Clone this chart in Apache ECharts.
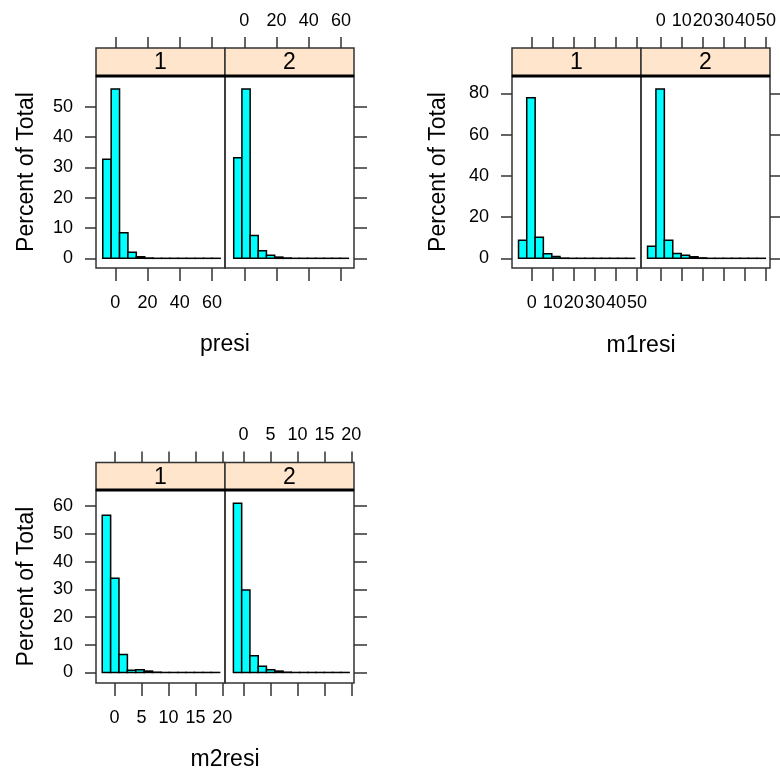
<!DOCTYPE html>
<html><head><meta charset="utf-8">
<script src="https://cdn.jsdelivr.net/npm/echarts@6/dist/echarts.min.js"></script>
<style>html,body{margin:0;padding:0;background:#fff}#c{width:780px;height:776px}</style>
</head><body><div id="c"></div>
<script>
// ---------------- data ----------------
const panelLabels = ['1', '2'];

// presi
const presiBreaks1 = [-7.8, -2.6, 2.6, 7.8, 13.0, 18.2, 23.4, 28.6, 33.8, 39.0, 44.2, 49.4, 54.6, 59.8, 65.0];
const presiPct1    = [32.7, 55.9, 8.4, 2.0, 0.5, 0.1, 0, 0, 0, 0, 0, 0, 0, 0];
const presiBreaks2 = [-6.6, -1.5, 3.6, 8.6, 13.7, 18.8, 23.9, 29.0, 34.0, 39.1, 44.2, 49.3, 54.4, 59.4, 64.5];
const presiPct2    = [33.2, 55.9, 7.5, 2.5, 1.0, 0.4, 0.1, 0, 0, 0, 0, 0, 0, 0];
const presiXTicks  = [0, 20, 40, 60];
const presiYTicks  = [0, 10, 20, 30, 40, 50];

// m1resi
const m1Breaks1 = [-6.3, -2.4, 1.6, 5.5, 9.5, 13.4, 17.3, 21.3, 25.2, 29.2, 33.1, 37.0, 41.0, 44.9, 48.9];
const m1Pct1    = [8.8, 77.8, 10.2, 2.2, 0.9, 0.1, 0, 0, 0, 0, 0, 0, 0, 0];
const m1Breaks2 = [-6.3, -2.3, 1.7, 5.7, 9.7, 13.7, 17.7, 21.7, 25.7, 29.7, 33.7, 37.7, 41.7, 45.7, 49.7];
const m1Pct2    = [5.8, 82.1, 8.7, 2.3, 1.5, 0.8, 0.2, 0, 0, 0, 0, 0, 0, 0];
const m1XTicks  = [0, 10, 20, 30, 40, 50];
const m1YTicks  = [0, 20, 40, 60, 80];

// m2resi
const m2Breaks1 = [-2.3, -0.74, 0.81, 2.37, 3.93, 5.49, 7.04, 8.60, 10.16, 11.71, 13.27, 14.83, 16.38, 17.94, 19.5];
const m2Pct1    = [56.7, 34.0, 6.5, 0.8, 1.0, 0.5, 0.1, 0, 0, 0, 0, 0, 0, 0];
const m2Breaks2 = [-1.9, -0.36, 1.17, 2.71, 4.24, 5.78, 7.32, 8.85, 10.39, 11.92, 13.46, 15.0, 16.53, 18.07, 19.6];
const m2Pct2    = [61.0, 29.7, 6.0, 2.2, 1.0, 0.5, 0.1, 0, 0, 0, 0, 0, 0, 0];
const m2XTicks  = [0, 5, 10, 15, 20];
const m2YTicks  = [0, 10, 20, 30, 40, 50, 60];

const yTitle = 'Percent of Total';

// ---------------- layout / styles ----------------
const FONT = '"Liberation Sans", Arial, sans-serif';
const INK = '#333333';
const charts = [
  { title: 'presi', xMin: -12, xMax: 68, yMin: -3.2, yMax: 60.2, xTicks: presiXTicks, yTicks: presiYTicks,
    panels: [[presiBreaks1, presiPct1], [presiBreaks2, presiPct2]],
    left: 96, right: 354, top: 76, bottom: 268, stripH: 28, nameGap: 58, titleY: 345 },
  { title: 'm1resi', xMin: -9.4, xMax: 51.9, yMin: -4.7, yMax: 88.4, xTicks: m1XTicks, yTicks: m1YTicks,
    panels: [[m1Breaks1, m1Pct1], [m1Breaks2, m1Pct2]],
    left: 512, right: 770, top: 76, bottom: 268, stripH: 28, nameGap: 62, titleY: 346 },
  { title: 'm2resi', xMin: -3.46, xMax: 20.5, yMin: -3.8, yMax: 65.8, xTicks: m2XTicks, yTicks: m2YTicks,
    panels: [[m2Breaks1, m2Pct1], [m2Breaks2, m2Pct2]],
    left: 96, right: 354, top: 490, bottom: 683, stripH: 27.5, nameGap: 58, titleY: 760 }
];

const grid = [], xAxis = [], yAxis = [], series = [], graphic = [];
const tickLine = { color: INK, width: 1.5 };
const labelStyle = { fontSize: 18, fontFamily: FONT, color: '#000' };

charts.forEach(c => {
  const pw = (c.right - c.left) / 2;
  const h = c.bottom - c.top;
  c.panels.forEach((p, i) => {
    const g = grid.length;
    const left = c.left + i * pw;
    grid.push({ left: left, top: c.top, width: pw, height: h, show: true,
      borderColor: INK, borderWidth: 1.5, backgroundColor: 'transparent', containLabel: false });
    const xb = xAxis.length;
    xAxis.push({ gridIndex: g, type: 'value', min: c.xMin, max: c.xMax, position: 'bottom',
      axisLine: { show: false, onZero: false },
      axisTick: { show: true, inside: false, length: 13, customValues: c.xTicks, lineStyle: tickLine },
      axisLabel: { show: i === 0, customValues: c.xTicks, margin: 26, ...labelStyle },
      splitLine: { show: false } });
    xAxis.push({ gridIndex: g, type: 'value', min: c.xMin, max: c.xMax, position: 'top', offset: c.stripH,
      axisLine: { show: false, onZero: false },
      axisTick: { show: true, inside: false, length: 11, customValues: c.xTicks, lineStyle: tickLine },
      axisLabel: { show: i === 1, customValues: c.xTicks, margin: 18, ...labelStyle },
      splitLine: { show: false } });
    const yl = yAxis.length;
    yAxis.push({ gridIndex: g, type: 'value', min: c.yMin, max: c.yMax, position: 'left',
      axisLine: { show: false, onZero: false },
      axisTick: { show: i === 0, inside: false, length: 11, customValues: c.yTicks, lineStyle: tickLine },
      axisLabel: { show: i === 0, customValues: c.yTicks, margin: 23, ...labelStyle },
      splitLine: { show: false },
      name: i === 0 ? yTitle : '', nameLocation: 'middle', nameGap: c.nameGap, nameRotate: 90,
      nameTextStyle: { fontSize: 23, fontFamily: FONT, color: '#000' } });
    if (i === 1) {
      yAxis.push({ gridIndex: g, type: 'value', min: c.yMin, max: c.yMax, position: 'right',
        axisLine: { show: false, onZero: false },
        axisTick: { show: true, inside: false, length: 13, customValues: c.yTicks, lineStyle: tickLine },
        axisLabel: { show: false }, splitLine: { show: false } });
    }
    const breaks = p[0], pct = p[1];
    const data = pct.map((v, k) => [breaks[k], breaks[k + 1], v]);
    series.push({ type: 'custom', xAxisIndex: xb, yAxisIndex: yl, data: data,
      encode: { x: [0, 1], y: 2 }, clip: false, silent: true,
      renderItem: function (params, api) {
        const p0 = api.coord([api.value(0), 0]);
        const p1 = api.coord([api.value(1), api.value(2)]);
        return { type: 'rect',
          shape: { x: p0[0], y: p1[1], width: p1[0] - p0[0], height: Math.max(p0[1] - p1[1], 0.01) },
          style: { fill: '#00FFFF', stroke: '#000', lineWidth: 1.5 } };
      } });
    // strip
    graphic.push({ type: 'rect', silent: true, z: 10,
      shape: { x: left, y: c.top - c.stripH, width: pw, height: c.stripH },
      style: { fill: '#FFE5CC', stroke: INK, lineWidth: 1.5 } });
    graphic.push({ type: 'text', silent: true, z: 11, x: left + pw / 2, y: c.top - c.stripH / 2 + 1,
      style: { text: panelLabels[i], fontSize: 23, fontFamily: FONT, fill: '#000',
        textAlign: 'center', textVerticalAlign: 'middle' } });
  });
  graphic.push({ type: 'line', silent: true, z: 12,
    shape: { x1: c.left, y1: c.top, x2: c.right, y2: c.top },
    style: { stroke: '#000', lineWidth: 3 } });
  graphic.push({ type: 'text', silent: true, z: 11, x: (c.left + c.right) / 2, y: c.titleY,
    style: { text: c.title, fontSize: 23, fontFamily: FONT, fill: '#000',
      textAlign: 'center', textVerticalAlign: 'middle' } });
});

const chart = echarts.init(document.getElementById('c'), null, { renderer: 'canvas' });
chart.setOption({ animation: false, backgroundColor: '#ffffff', grid, xAxis, yAxis, series, graphic });
</script>
</body></html>
